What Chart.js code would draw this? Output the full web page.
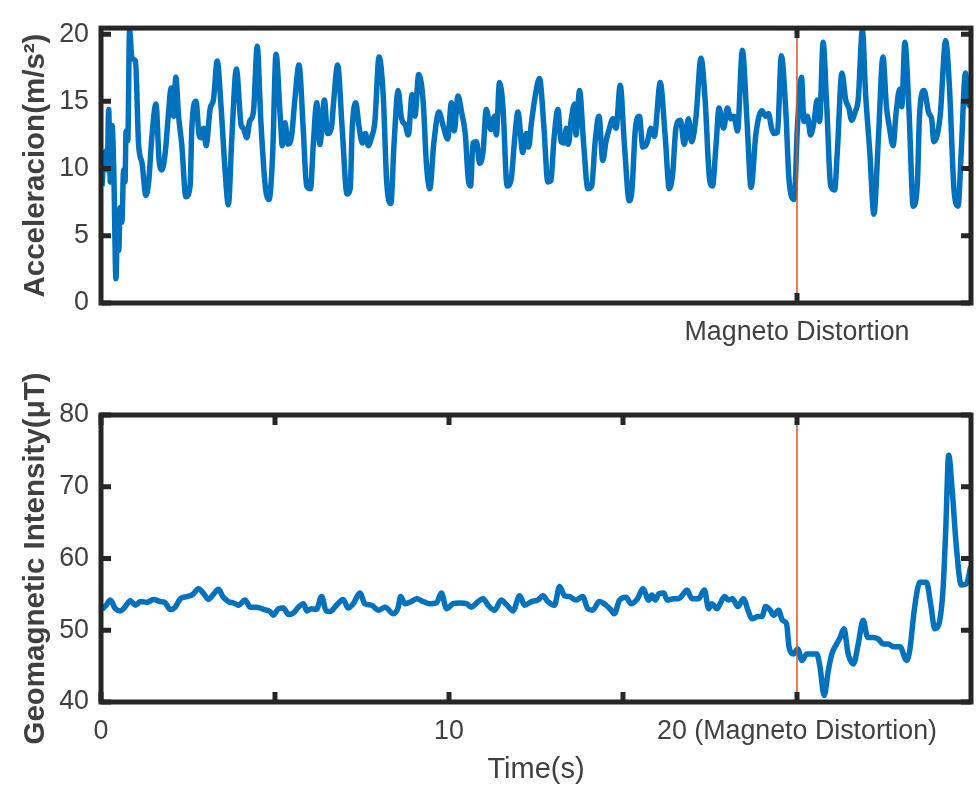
<!DOCTYPE html>
<html>
<head>
<meta charset="utf-8">
<script src="https://cdn.jsdelivr.net/npm/chart.js@4.4.1/dist/chart.umd.min.js"></script>
<style>
  html, body { margin: 0; padding: 0; background: #fff; }
  #wrap { position: relative; width: 976px; height: 787px; }
  #accWrap { position: absolute; left: 0; top: 0; width: 976px; height: 370px; }
  #magWrap { position: absolute; left: 0; top: 370px; width: 976px; height: 417px; }
</style>
</head>
<body>
<div id="wrap">
  <div id="accWrap"><canvas id="accChart" width="976" height="370"></canvas></div>
  <div id="magWrap"><canvas id="magChart" width="976" height="417"></canvas></div>
</div>
<script>
// --- dados ---
const accTime = [0.03,0.08,0.15,0.18,0.22,0.27,0.32,0.37,0.43,0.47,0.51,0.55,0.60,0.65,0.69,0.72,0.77,0.82,0.89,0.99,
  1.08,1.18,1.29,1.37,1.46,1.58,1.67,1.75,1.85,1.92,2.02,2.09,2.15,2.23,2.32,2.44,2.56,2.61,2.73,2.82,
  2.88,2.95,3.02,3.14,3.23,3.34,3.45,3.57,3.66,3.76,3.89,4.03,4.09,4.19,4.27,4.38,4.49,4.59,4.72,4.83,
  4.93,5.03,5.15,5.21,5.29,5.37,5.48,5.56,5.69,5.81,5.91,6.02,6.10,6.20,6.29,6.42,6.51,6.63,6.68,6.80,
  6.93,7.07,7.16,7.22,7.32,7.41,7.51,7.60,7.68,7.77,7.87,7.99,8.11,8.21,8.33,8.42,8.54,8.63,8.75,8.83,
  8.94,9.02,9.13,9.26,9.35,9.45,9.56,9.71,9.83,9.96,10.07,10.15,10.26,10.36,10.47,10.55,10.62,10.69,10.79,10.88,
  10.98,11.07,11.20,11.31,11.36,11.45,11.55,11.67,11.79,11.89,11.98,12.12,12.22,12.29,12.36,12.46,12.60,12.73,12.84,12.93,
  13.01,13.13,13.22,13.32,13.37,13.43,13.51,13.61,13.65,13.75,13.87,13.99,14.10,14.20,14.31,14.42,14.51,14.61,14.71,14.80,
  14.92,15.04,15.18,15.26,15.35,15.47,15.57,15.69,15.80,15.90,16.07,16.21,16.33,16.43,16.52,16.65,16.76,16.88,16.97,17.10,
  17.24,17.36,17.48,17.57,17.67,17.76,17.89,18.00,18.10,18.19,18.29,18.43,18.56,18.68,18.82,18.99,19.10,19.18,19.27,19.34,
  19.44,19.55,19.68,19.77,19.92,20.01,20.13,20.20,20.30,20.39,20.49,20.58,20.65,20.75,20.85,20.97,21.08,21.16,21.29,21.40,
  21.49,21.57,21.67,21.76,21.88,21.97,22.09,22.21,22.34,22.47,22.57,22.66,22.76,22.85,22.95,23.01,23.10,23.22,23.34,23.46,
  23.52,23.65,23.79,23.87,23.93,24.03,24.12,24.27,24.38,24.51,24.63,24.72,24.84,24.93,25.00];
const accValues = [8.7,10.9,11.3,9.9,14.4,9.0,13.2,9.5,1.8,5.5,3.9,7.1,6.0,9.9,9.0,12.8,12.1,20.3,18.2,18.0,
  11.8,10.4,8.0,9.0,12.3,14.8,10.6,9.9,11.3,13.5,16.0,13.9,16.8,13.9,11.8,7.9,8.7,13.0,15.0,12.5,
  12.3,13.0,11.7,14.5,15.1,18.0,14.6,9.7,7.3,12.3,17.4,13.2,13.0,12.3,13.5,14.2,19.1,13.7,8.7,7.7,
  10.9,18.5,13.9,11.7,13.4,11.8,12.5,14.8,17.7,13.0,8.7,8.5,11.8,14.9,11.8,15.1,12.6,13.2,14.8,17.7,
  13.0,8.1,8.5,13.0,14.9,13.2,11.9,12.6,11.7,12.3,13.5,18.3,15.4,9.0,7.4,11.8,15.8,13.8,13.2,12.5,
  15.5,13.9,17.0,14.9,10.4,8.5,11.8,14.2,13.2,12.2,14.9,12.8,15.4,14.2,12.5,9.3,8.7,11.9,12.0,10.4,
  11.3,14.4,12.9,13.9,12.5,16.4,14.6,8.7,9.3,12.3,14.2,11.2,12.6,11.6,13.2,15.1,16.7,13.0,9.0,9.1,
  12.0,14.4,12.0,11.9,13.0,11.8,13.6,14.8,12.5,15.8,11.8,8.5,8.7,12.0,13.9,10.6,12.0,13.0,13.7,13.0,
  16.2,11.8,7.6,8.5,12.8,13.9,11.6,11.9,13.0,12.4,16.4,12.5,8.5,9.7,13.0,13.6,11.8,13.7,12.0,13.9,
  18.2,15.1,9.4,8.7,11.6,14.5,13.0,14.5,13.7,13.9,12.8,18.8,13.7,8.6,12.6,14.3,13.9,14.1,13.0,12.6,
  12.7,18.4,14.2,9.2,7.7,13.0,16.8,13.5,13.9,12.5,13.5,15.1,13.5,19.4,14.9,8.7,8.4,11.3,17.1,15.1,
  14.5,13.6,14.2,15.2,20.3,15.6,11.3,6.6,12.3,18.3,14.6,13.0,11.7,14.2,15.9,14.6,19.4,14.2,7.2,9.0,
  13.9,15.8,14.1,13.7,12.0,12.5,14.1,19.5,16.1,8.5,7.2,11.3,17.1,14.8,14.6];

const magTime = [0.03,0.15,0.27,0.41,0.56,0.70,0.84,0.99,1.13,1.32,1.51,1.70,1.85,1.99,2.13,2.28,2.47,2.64,2.80,2.95,
  3.09,3.23,3.38,3.50,3.66,3.81,3.95,4.14,4.29,4.48,4.67,4.86,4.95,5.10,5.24,5.39,5.53,5.67,5.82,5.91,
  6.05,6.19,6.34,6.47,6.58,6.77,6.96,7.10,7.25,7.44,7.58,7.77,7.97,8.16,8.40,8.54,8.61,8.73,8.92,9.07,
  9.26,9.45,9.64,9.78,9.93,10.12,10.31,10.50,10.64,10.79,10.98,11.12,11.31,11.50,11.65,11.84,12.03,12.17,12.37,12.55,
  12.70,12.84,13.03,13.18,13.32,13.46,13.65,13.84,13.99,14.13,14.32,14.51,14.66,14.75,14.90,15.09,15.23,15.42,15.57,15.74,
  15.83,15.93,16.03,16.17,16.27,16.46,16.60,16.74,16.84,16.98,17.17,17.34,17.46,17.55,17.70,17.79,17.92,18.03,18.15,18.30,
  18.46,18.59,18.70,18.88,18.99,19.10,19.23,19.33,19.47,19.58,19.70,19.77,19.90,20.02,20.14,20.28,20.42,20.57,20.66,20.78,
  20.90,21.00,21.14,21.24,21.35,21.47,21.62,21.76,21.90,22.03,22.19,22.33,22.48,22.62,22.77,22.96,23.15,23.24,23.37,23.53,
  23.72,23.84,23.96,24.08,24.20,24.27,24.36,24.46,24.58,24.72,24.87,24.99];
const magValues = [52.9,53.5,54.2,53.0,52.7,53.3,54.1,53.5,54.0,53.9,54.3,54.0,53.8,52.9,53.2,54.4,54.7,55.0,55.8,55.1,
  54.3,55.0,55.7,54.7,54.0,53.8,53.5,54.2,53.2,53.2,52.9,52.6,52.1,53.0,53.1,52.2,52.4,53.2,53.7,52.7,
  53.0,52.9,54.7,52.7,52.6,53.5,54.3,53.1,53.7,55.2,53.7,53.5,52.8,53.2,52.3,53.2,54.7,53.7,54.0,54.4,
  54.0,53.7,53.8,55.2,53.0,53.7,53.8,53.7,53.2,53.8,54.4,53.5,52.8,54.2,53.6,52.7,54.8,53.5,54.0,54.2,
  54.8,54.0,53.5,56.1,54.8,54.7,54.2,54.7,53.0,52.8,54.0,53.5,52.8,52.3,54.2,54.6,53.7,54.4,55.8,54.2,
  54.9,54.2,55.1,55.2,54.2,54.4,54.4,55.1,55.6,54.4,54.4,55.6,53.0,53.7,53.0,53.7,54.7,54.2,54.4,53.3,
  54.4,52.8,51.6,51.9,51.9,53.3,52.8,52.1,52.8,51.4,50.9,47.7,46.7,47.4,45.8,46.7,46.7,46.7,44.9,40.9,
  44.4,46.7,48.1,49.0,50.2,46.7,45.3,48.1,51.4,49.0,49.0,48.8,48.1,48.1,47.7,47.7,45.8,47.2,52.8,56.7,
  56.7,53.7,50.2,50.9,56.0,63.5,74.4,69.5,61.6,56.3,56.5,58.9];

const distortionTime = 20;
const timeRange = [0, 25];
const accRange = [0, 20.45];
const magRange = [40, 80];
const accYTicks = [0, 5, 10, 15, 20];
const magYTicks = [40, 50, 60, 70, 80];
const accXTicks = [20];
const accXLabels = ['Magneto Distortion'];
const magXTicks = [0, 5, 10, 15, 20];
const magXLabels = ['0', '', '10', '', '20 (Magneto Distortion)'];

const FONT = 'Arial, "Liberation Sans", Helvetica, sans-serif';
const AXIS = '#262626';
const TEXT = '#404040';
const BLUE = '#0072BD';
const RED = '#D95319';

const toPoints = (xs, ys) => xs.map((x, i) => ({ x, y: ys[i] }));

// moldura estilo MATLAB com ticks para dentro
const framePlugin = {
  id: 'frame',
  afterDatasetsDraw(chart) {
    const { ctx, chartArea: a, scales: { x, y } } = chart;
    const len = 10;
    ctx.save();
    ctx.strokeStyle = AXIS;
    ctx.lineWidth = 5;
    ctx.beginPath();
    x.ticks.forEach(t => {
      const px = x.getPixelForValue(t.value);
      ctx.moveTo(px, a.bottom); ctx.lineTo(px, a.bottom - len);
      ctx.moveTo(px, a.top); ctx.lineTo(px, a.top + len);
    });
    y.ticks.forEach(t => {
      const py = y.getPixelForValue(t.value);
      ctx.moveTo(a.left, py); ctx.lineTo(a.left + len, py);
      ctx.moveTo(a.right, py); ctx.lineTo(a.right - len, py);
    });
    ctx.stroke();
    ctx.strokeRect(a.left, a.top, a.right - a.left, a.bottom - a.top);
    ctx.restore();
  }
};

function makeChart(id, cfg) {
  return new Chart(document.getElementById(id), {
    type: 'line',
    data: {
      datasets: [
        {
          data: toPoints([distortionTime, distortionTime], cfg.yRange),
          borderColor: RED, borderWidth: 1.5, pointRadius: 0, order: 0
        },
        {
          data: toPoints(cfg.time, cfg.values),
          borderColor: BLUE, borderWidth: 5.5, pointRadius: 0,
          cubicInterpolationMode: 'monotone', borderJoinStyle: 'round', order: 1
        }
      ]
    },
    options: {
      responsive: false,
      animation: false,
      layout: { padding: { left: 0, right: 5, top: cfg.padTop, bottom: 0 } },
      plugins: { legend: { display: false }, tooltip: { enabled: false } },
      scales: {
        x: {
          type: 'linear', position: 'bottom',
          min: timeRange[0], max: timeRange[1],
          grid: { display: false, drawTicks: false },
          border: { display: false },
          afterBuildTicks: s => { s.ticks = cfg.xTicks.map(v => ({ value: v })); },
          afterFit: s => { s.height = cfg.xHeight; },
          ticks: {
            autoSkip: false, maxRotation: 0, minRotation: 0, padding: 14,
            color: TEXT, font: { family: FONT, size: 26.8 },
            callback: (v, i) => cfg.xLabels[i]
          },
          title: {
            display: !!cfg.xTitle, text: cfg.xTitle || '',
            color: TEXT, font: { family: FONT, size: 29 },
            padding: { top: 0, bottom: 0 }
          }
        },
        y: {
          min: cfg.yRange[0], max: cfg.yRange[1],
          grid: { display: false, drawTicks: false },
          border: { display: false },
          afterBuildTicks: s => { s.ticks = cfg.yTicks.map(v => ({ value: v })); },
          afterFit: s => { s.width = 101; },
          ticks: { padding: 12, color: TEXT, font: { family: FONT, size: 26.8 } },
          title: {
            display: true, text: cfg.yTitle,
            color: TEXT, font: { family: FONT, size: 29.5, weight: 'bold' },
            padding: { top: 18, bottom: 0 }
          }
        }
      }
    },
    plugins: [framePlugin]
  });
}

makeChart('accChart', {
  time: accTime, values: accValues, yRange: accRange, yTicks: accYTicks,
  xTicks: accXTicks, xLabels: accXLabels, yTitle: 'Acceleracion(m/s²)',
  padTop: 15, xHeight: 67
});

makeChart('magChart', {
  time: magTime, values: magValues, yRange: magRange, yTicks: magYTicks,
  xTicks: magXTicks, xLabels: magXLabels, yTitle: 'Geomagnetic Intensity(μT)',
  xTitle: 'Time(s)', padTop: 45, xHeight: 85
});
</script>
</body>
</html>
